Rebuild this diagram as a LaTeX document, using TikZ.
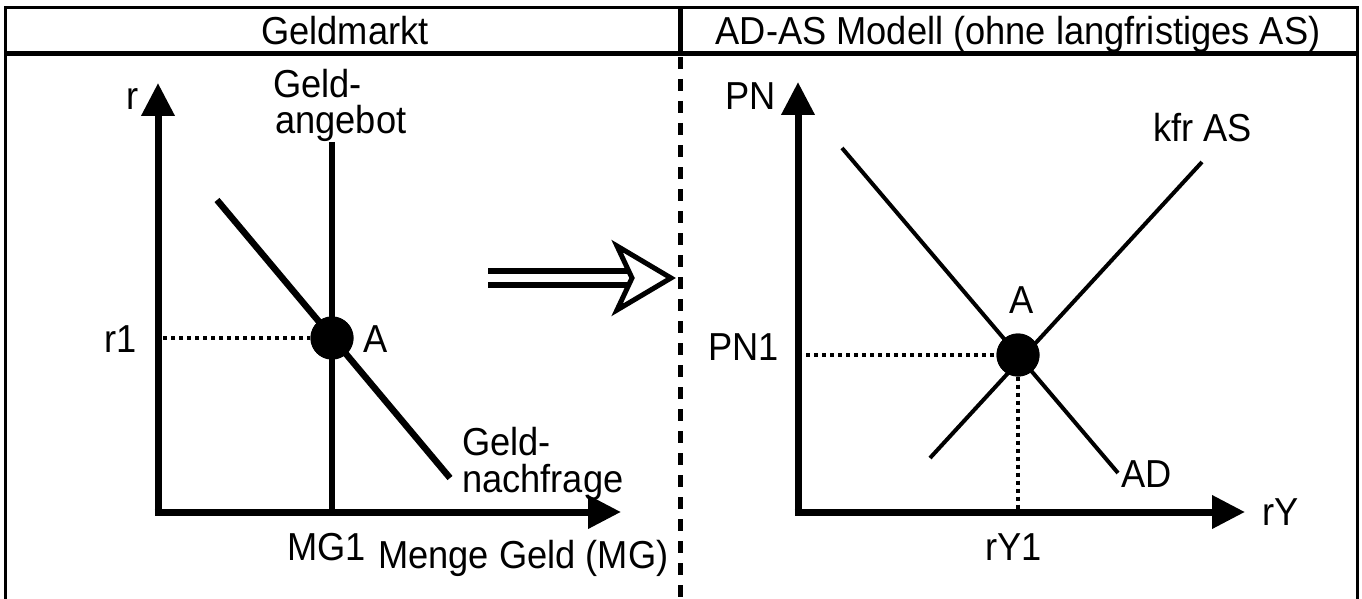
\documentclass[tikz,border=0pt]{standalone}
\usepackage{fontspec}
\setmainfont{Liberation Sans}[FakeStretch=0.93]
\usetikzlibrary{arrows.meta,calc}
\begin{document}
\begin{tikzpicture}[x=1pt,y=-1pt,
  lbl/.style={inner sep=0pt, anchor=base west, font=\fontsize{39}{42}\selectfont},
  hdr/.style={inner sep=0pt, anchor=base, font=\fontsize{39}{42}\selectfont},
  axis/.style={line width=7pt, -{Triangle[width=32pt,length=33pt]}},
  thickcurve/.style={line width=6.5pt},
  thincurve/.style={line width=4pt},
  guide/.style={line width=3.5pt, dash pattern=on 4pt off 4pt},
  eqdot/.style={circle, fill=black, inner sep=0pt, minimum size=43pt},
  frame/.style={line width=3pt},
  divider/.style={line width=5pt}
]
\useasboundingbox (0,0) rectangle (1362,599);
% frame
\draw[frame] (5,599) -- (5,8) -- (1357,8) -- (1357,599);
\draw[divider] (5,54) -- (1357,54);
\draw[divider] (680,8) -- (680,54);
\draw[divider, dash pattern=on 12pt off 10pt] (680,57) -- (680,599);
\node[hdr] (h1) at (345,45) {Geldmarkt};
\node[hdr] (h2) at (1018,45) {AD-AS Modell (ohne langfristiges AS)};

% ---------- left chart ----------
\coordinate (O1) at (158,512);
\coordinate (Y1) at (158,83);
\coordinate (X1) at (621,512);
\coordinate (S1top) at (332,142);
\coordinate (S1bot) at (332,512);
\coordinate (D1top) at (217,200);
\coordinate (D1bot) at (450,478);
\coordinate (r1end) at (163,338);
\node[eqdot] (A1) at (332,338) {};
\draw[thickcurve] (D1top) -- (D1bot);
\draw[thickcurve] (S1top) -- (S1bot);
\draw[axis] (O1) -- (Y1);
\draw[axis] ($(O1)+(-3.5,0)$) -- (X1);
\draw[guide] (r1end) -- (A1.west);
\node[eqdot] at (A1) {};
\node[lbl] (lr) at (126,110) {r};
\node[lbl] (lr1) at (104,352) {r1};
\node[lbl] (lA1) at (363,352) {A};
\node[lbl] (lGa1) at (273,98) {Geld-};
\node[lbl] (lGa2) at (275,134) {angebot};
\node[lbl] (lGn1) at (462,455) {Geld-};
\node[lbl] (lGn2) at (462,492) {nachfrage};
\node[lbl] (lMG1) at (287,560) {MG1};
\node[lbl] (lMG) at (378,568) {Menge Geld (MG)};

% ---------- transition arrow ----------
\coordinate (arrS) at (488,278);
\coordinate (arrE) at (634,278);
\draw[line width=6pt] ($(arrS)+(0,-7)$) -- ($(arrE)+(0,-7)$);
\draw[line width=6pt] ($(arrS)+(0,7)$) -- ($(arrE)+(0,7)$);
\draw[line width=5pt, fill=white, line join=miter] (617,246) -- (671,278) -- (617,310) -- (632,278) -- cycle;

% ---------- right chart ----------
\coordinate (O2) at (798,512);
\coordinate (Y2) at (798,82);
\coordinate (X2) at (1245,512);
\coordinate (ADtop) at (842,148);
\coordinate (ADbot) at (1118,473);
\coordinate (AStop) at (1202,162);
\coordinate (ASbot) at (930,458);
\node[eqdot] (A2) at (1018,355) {};
\coordinate (pn1end) at (806,355);
\coordinate (ry1end) at (1018,510);
\draw[thincurve] (ADtop) -- (ADbot);
\draw[thincurve] (ASbot) -- (AStop);
\draw[axis] ($(O2)+(0,3.5)$) -- (Y2);
\draw[axis] ($(O2)+(-3.5,0)$) -- (X2);
\draw[guide] (pn1end) -- (A2.west);
\draw[guide] (A2.south) -- (ry1end);
\node[eqdot] at (A2) {};
\node[lbl] (lPN) at (725,110) {PN};
\node[lbl] (lPN1) at (708,360) {PN1};
\node[lbl] (lA2) at (1009,313) {A};
\node[lbl] (lkfr) at (1153,142) {kfr AS};
\node[lbl] (lAD) at (1121,487) {AD};
\node[lbl] (lrY) at (1262,525) {rY};
\node[lbl] (lrY1) at (985,560) {rY1};
\end{tikzpicture}
\end{document}
